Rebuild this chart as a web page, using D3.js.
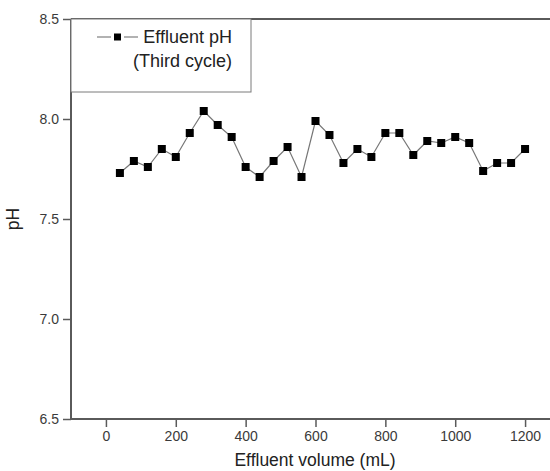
<!DOCTYPE html>
<html>
<head>
<meta charset="utf-8">
<script src="https://cdn.jsdelivr.net/npm/d3@7"></script>
<style>
  body { margin: 0; background: #fff; }
  svg { display: block; font-family: "Liberation Sans", Arial, sans-serif; }
</style>
</head>
<body>
<div class="canvas"></div>
<script>
// effluent volume (mL) and pH, third cycle
const volume = [40, 80, 120, 160, 200, 240, 280, 320, 360, 400,
  440, 480, 520, 560, 600, 640, 680, 720, 760, 800,
  840, 880, 920, 960, 1000, 1040, 1080, 1120, 1160, 1200];
const ph = [7.73, 7.79, 7.76, 7.85, 7.81, 7.93, 8.04, 7.97, 7.91, 7.76,
  7.71, 7.79, 7.86, 7.71, 7.99, 7.92, 7.78, 7.85, 7.81, 7.93,
  7.93, 7.82, 7.89, 7.88, 7.91, 7.88, 7.74, 7.78, 7.78, 7.85];
const xTicks = [0, 200, 400, 600, 800, 1000, 1200];
const yTicks = [6.5, 7.0, 7.5, 8.0, 8.5];

const width = 550, height = 471;
const margin = {top: 19, right: -10, bottom: 52, left: 71};
const graphWidth = width - margin.left - margin.right;
const graphHeight = height - margin.top - margin.bottom;

const svg = d3.select('.canvas')
    .append('svg')
    .attr('width', width)
    .attr('height', height);

const graph = svg.append('g')
    .attr('transform', `translate(${margin.left}, ${margin.top})`);

const x = d3.scaleLinear().domain([-100, 1300]).range([0, graphWidth]);
const y = d3.scaleLinear().domain([6.5, 8.5]).range([graphHeight, 0]);

const axisColour = '#5a5a5a';

const xAxis = d3.axisBottom(x).tickValues(xTicks).tickSize(8).tickPadding(4)
    .tickFormat(d3.format('d'));
const yAxis = d3.axisLeft(y).tickValues(yTicks).tickSize(8).tickPadding(4)
    .tickFormat(d3.format('.1f'));

const xAxisGroup = graph.append('g')
    .attr('transform', `translate(0, ${graphHeight})`)
    .call(xAxis);
const yAxisGroup = graph.append('g').call(yAxis);

[xAxisGroup, yAxisGroup].forEach(g => {
  g.select('.domain').attr('stroke', axisColour).attr('stroke-width', 2);
  g.selectAll('.tick line').attr('stroke', axisColour).attr('stroke-width', 1.5);
  g.selectAll('.tick text')
    .attr('fill', '#3a3a3a')
    .style('font-size', '14px')
    .style('font-family', '"Liberation Sans", Arial, sans-serif');
});
xAxisGroup.select('.domain').attr('d', `M0,0H${graphWidth}`);
yAxisGroup.select('.domain').attr('d', `M0,${graphHeight}V0`);

// top frame line
graph.append('line')
    .attr('x1', 0).attr('x2', graphWidth)
    .attr('y1', 0).attr('y2', 0)
    .attr('stroke', axisColour).attr('stroke-width', 2);

// data line + markers
const pts = volume.map((v, i) => ({v: v, p: ph[i]}));
const line = d3.line().x(d => x(d.v)).y(d => y(d.p));

graph.append('path')
    .datum(pts)
    .attr('d', line)
    .attr('fill', 'none')
    .attr('stroke', '#777')
    .attr('stroke-width', 1.2);

const ms = 8;
graph.selectAll('rect.pt')
    .data(pts)
    .enter().append('rect')
    .attr('class', 'pt')
    .attr('x', d => x(d.v) - ms / 2)
    .attr('y', d => y(d.p) - ms / 2)
    .attr('width', ms).attr('height', ms)
    .attr('fill', '#000');

// axis titles
svg.append('text')
    .attr('x', 315).attr('y', 466)
    .attr('text-anchor', 'middle')
    .style('font-size', '17.5px')
    .attr('fill', '#222')
    .text('Effluent volume (mL)');

svg.append('text')
    .attr('transform', 'translate(19, 219) rotate(-90)')
    .attr('text-anchor', 'middle')
    .style('font-size', '17.5px')
    .attr('fill', '#222')
    .text('pH');

// legend
const legend = svg.append('g');
legend.append('rect')
    .attr('x', 71).attr('y', 19)
    .attr('width', 180).attr('height', 73)
    .attr('fill', '#fff')
    .attr('stroke', '#7a7a7a').attr('stroke-width', 1);
[[97, 111], [124, 138]].forEach(s => {
  legend.append('line')
    .attr('x1', s[0]).attr('x2', s[1])
    .attr('y1', 37).attr('y2', 37)
    .attr('stroke', '#999').attr('stroke-width', 1.5);
});
legend.append('rect')
    .attr('x', 114).attr('y', 33.5)
    .attr('width', 7).attr('height', 7)
    .attr('fill', '#000');
legend.append('text')
    .attr('x', 232).attr('y', 43)
    .attr('text-anchor', 'end')
    .style('font-size', '18px')
    .attr('fill', '#222')
    .text('Effluent pH');
legend.append('text')
    .attr('x', 232).attr('y', 67)
    .attr('text-anchor', 'end')
    .style('font-size', '18px')
    .attr('fill', '#222')
    .text('(Third cycle)');
</script>
</body>
</html>
